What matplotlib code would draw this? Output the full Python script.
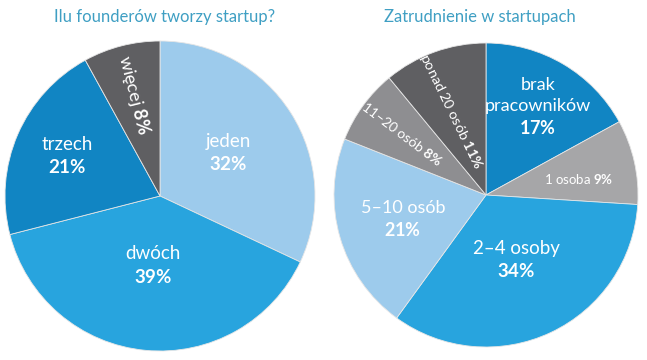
import numpy as np
import matplotlib
matplotlib.use("Agg")
import matplotlib.pyplot as plt

plt.rcParams['font.family'] = ['Lato', 'DejaVu Sans']
plt.rcParams['mathtext.fontset'] = 'custom'
plt.rcParams['mathtext.rm'] = 'Lato'
plt.rcParams['mathtext.bf'] = 'Lato:bold'

# ---- DATA
title1   = "Ilu founderów tworzy startup?"
names1   = ["jeden", "dwóch", "trzech", "więcej"]
values1  = [32, 39, 21, 8]

title2   = "Zatrudnienie w startupach"
names2   = ["brak\npracowników", "1 osoba", "2–4 osoby", "5–10 osób", "11–20 osób", "ponad 20 osób"]
values2  = [17, 9, 34, 21, 8, 11]

# ---- STYLE
LBLUE = "#9dcbec"
MBLUE = "#28a4de"
DBLUE = "#1185c3"
DGRAY = "#5f5f62"
MGRAY = "#8e8e91"
LGRAY = "#a6a6a8"
TITLE = "#3f9fc3"

colors1 = [LBLUE, MBLUE, DBLUE, DGRAY]
colors2 = [DBLUE, LGRAY, MBLUE, LBLUE, MGRAY, DGRAY]

# per label: radius factor, angle shift (deg), font size, rotation, inline (one line)?
lab1 = [(0.52, 0, 13.5, 0, False), (0.45, 0, 13.5, 0, False),
        (0.65, 0, 13.5, 0, False), (0.67, 0, 13, -76, True)]
lab2 = [(0.67, 0, 13, 0, False), (0.62, -3, 9.5, 0, True),
        (0.47, 0, 13.5, 0, False), (0.57, 0, 13, 0, False),
        (0.68, 0, 10, -37, True), (0.60, 3, 10.3, -64, True)]


def draw(ax, title, names, values, colors, labs):
    wedges, _ = ax.pie(values, colors=colors, startangle=90, counterclock=False,
                       radius=1.0, wedgeprops=dict(linewidth=0.6, edgecolor="#e6e6e6"))
    for w, n, v, (rf, da, fs, rot, inline) in zip(wedges, names, values, labs):
        ang = np.deg2rad((w.theta1 + w.theta2) / 2. + da)
        x = rf * np.cos(ang)
        y = rf * np.sin(ang)
        if inline:
            s = n + r" $\mathbf{" + str(v) + r"\%}$"
        else:
            s = n + "\n" + r"$\mathbf{" + str(v) + r"\%}$"
        ax.text(x, y, s, color="white", fontsize=fs, ha="center", va="center",
                rotation=rot, rotation_mode="anchor", linespacing=1.35)
    ax.set_xlim(-1, 1)
    ax.set_ylim(-1, 1)
    ax.set_aspect("equal")
    ax.axis("off")


fig = plt.figure(figsize=(6.47, 3.6), dpi=100)
fig.patch.set_facecolor("white")

ax1 = fig.add_axes([5 / 647, 9 / 360, 310 / 647, 310 / 360])
draw(ax1, title1, names1, values1, colors1, lab1)
ax2 = fig.add_axes([334 / 647, 13 / 360, 304 / 647, 304 / 360])
draw(ax2, title2, names2, values2, colors2, lab2)

fig.text(165 / 647, 1 - 17 / 360, title1, color=TITLE, fontsize=12, ha="center", va="center")
fig.text(480 / 647, 1 - 17 / 360, title2, color=TITLE, fontsize=12, ha="center", va="center")

fig.savefig("out.png", dpi=100)
